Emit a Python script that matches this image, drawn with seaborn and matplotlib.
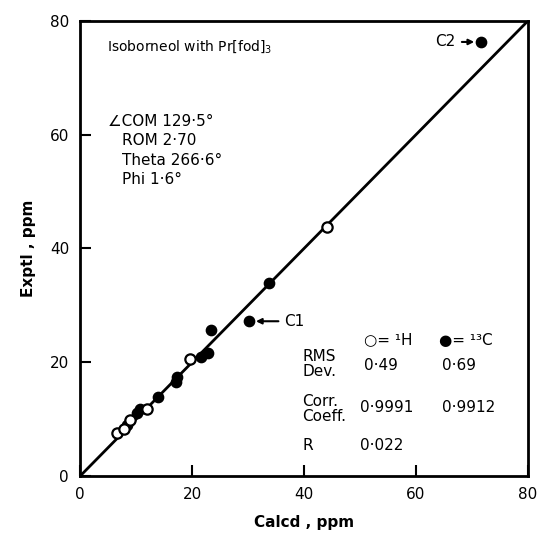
import numpy as np
import matplotlib
matplotlib.use("Agg")
import matplotlib.pyplot as plt
import seaborn as sns
import pandas as pd

# observed vs calculated shifts (ppm)
h_calcd = [6.5, 7.9, 8.9, 12.0, 19.6, 44.1]
h_exptl = [7.5, 8.3, 9.8, 11.7, 20.5, 43.7]
c_calcd = [8.3, 10.1, 10.7, 13.9, 17.2, 17.3, 21.5, 22.8, 23.3, 30.1, 33.7, 71.7]
c_exptl = [9.0, 11.0, 11.8, 13.9, 16.5, 17.4, 20.9, 21.6, 25.7, 27.2, 33.9, 76.3]
ideal = [0, 80]
ticks = [0, 20, 40, 60, 80]

sns.set_style("ticks")
plt.rcParams['font.family'] = ['DejaVu Sans']
for key in ['text.color', 'axes.labelcolor', 'xtick.color', 'ytick.color', 'axes.edgecolor']:
    plt.rcParams[key] = 'black'

fig = plt.figure(figsize=(5.42, 5.36), dpi=100)
ax = fig.add_axes([0.148, 0.112, 0.826, 0.849])

sns.lineplot(x=ideal, y=ideal, color='black', linewidth=2, ax=ax, zorder=1)
sns.scatterplot(x=c_calcd, y=c_exptl, color='black', edgecolor='black',
                s=55, linewidth=1, ax=ax, zorder=3)
sns.scatterplot(x=h_calcd, y=h_exptl, color='white', edgecolor='black',
                s=55, linewidth=1.6, ax=ax, zorder=4)

ax.set_xlim(0, 80)
ax.set_ylim(0, 80)
ax.set_xticks(ticks)
ax.set_yticks(ticks)
ax.tick_params(direction='in', length=8, width=1.5, labelsize=11, pad=8)
for sp in ax.spines.values():
    sp.set_linewidth(2)
    sp.set_visible(True)

ax.set_xlabel('Calcd , ppm', fontsize=11, fontweight='bold', labelpad=9)
ax.set_ylabel('Exptl , ppm', fontsize=11, fontweight='bold', labelpad=10)

fs = 11
ax.text(4.8, 75.5, 'Isoborneol with Pr[fod]$_3$', fontsize=10, va='center')
ax.text(5.0, 62.3, '∠COM 129·5°', fontsize=fs, va='center')
ax.text(7.4, 58.9, 'ROM 2·70', fontsize=fs, va='center')
ax.text(7.4, 55.5, 'Theta 266·6°', fontsize=fs, va='center')
ax.text(7.4, 52.1, 'Phi 1·6°', fontsize=fs, va='center')

ax.annotate('C2', xy=(c_calcd[-1] - 0.8, c_exptl[-1]), xytext=(63.5, c_exptl[-1]),
            fontsize=fs, va='center',
            arrowprops=dict(arrowstyle='-|>', color='black', lw=1.5, mutation_scale=8))
ax.annotate('C1', xy=(c_calcd[9] + 0.8, c_exptl[9]), xytext=(36.5, c_exptl[9]),
            fontsize=fs, va='center',
            arrowprops=dict(arrowstyle='-|>', color='black', lw=1.5, mutation_scale=8))

ax.text(50.7, 23.9, '○= ¹H', fontsize=fs, va='center')
ax.text(64.1, 23.9, '●= ¹³C', fontsize=fs, va='center')
ax.text(39.7, 19.7, 'RMS\nDev.', fontsize=fs, va='center', linespacing=0.95)
ax.text(50.7, 19.5, '0·49', fontsize=fs, va='center')
ax.text(64.6, 19.5, '0·69', fontsize=fs, va='center')
ax.text(39.7, 11.8, 'Corr.\nCoeff.', fontsize=fs, va='center', linespacing=0.95)
ax.text(50.0, 12.0, '0·9991', fontsize=fs, va='center')
ax.text(64.6, 12.0, '0·9912', fontsize=fs, va='center')
ax.text(39.7, 5.3, 'R', fontsize=fs, va='center')
ax.text(50.0, 5.3, '0·022', fontsize=fs, va='center')

fig.savefig('out.png', dpi=100)
